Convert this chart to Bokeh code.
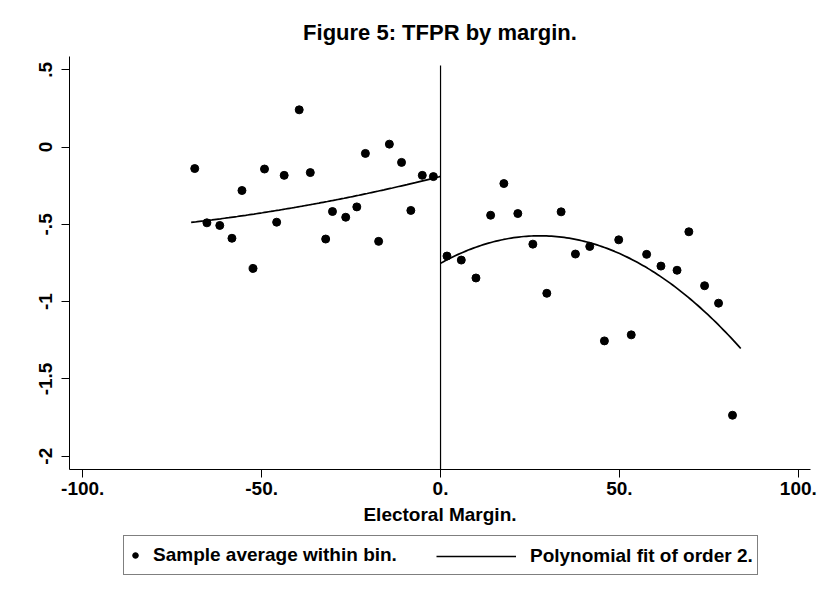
import numpy as np
from bokeh.plotting import figure
from bokeh.layouts import column
from bokeh.models import (ColumnDataSource, Range1d, FixedTicker, Legend, LegendItem)
from bokeh.embed import file_html
from bokeh.resources import INLINE

# Bin averages of TFPR, left and right of the zero electoral margin
left_margin = [-68.7, -65.3, -61.7, -58.3, -55.5, -52.4, -49.2, -45.8, -43.7, -39.5, -36.4,
               -32.1, -30.2, -26.5, -23.4, -21.0, -17.3, -14.3, -10.9, -8.3, -5.1, -2.0]
left_tfpr = [-0.139, -0.490, -0.507, -0.590, -0.281, -0.785, -0.142, -0.486, -0.183, 0.241, -0.165,
             -0.595, -0.417, -0.454, -0.387, -0.041, -0.610, 0.019, -0.099, -0.410, -0.183, -0.191]
right_margin = [1.8, 5.8, 9.9, 14.0, 17.7, 21.6, 25.8, 29.7, 33.7, 37.7, 41.7,
                45.8, 49.8, 53.3, 57.6, 61.6, 66.1, 69.4, 73.8, 77.7, 81.6]
right_tfpr = [-0.705, -0.731, -0.847, -0.441, -0.236, -0.430, -0.628, -0.946, -0.419, -0.692, -0.643,
              -1.254, -0.600, -1.215, -0.694, -0.770, -0.797, -0.548, -0.897, -1.010, -1.735]

# Second-order polynomial fits on each side: coefficients (c0, c1, c2) and fitted span
left_fit_coef = [-0.190, 0.00584, 0.0000225]
left_fit_span = [-69.7, 0.0]
right_fit_coef = [-0.752, 0.01283, -0.0002312]
right_fit_span = [0.0, 83.9]

cutoff = 0.0
cutoff_line_top = 0.528

x_ticks = [-100, -50, 0, 50, 100]
x_tick_labels = ["-100.", "-50.", "0.", "50.", "100."]
y_ticks = [0.5, 0.0, -0.5, -1.0, -1.5, -2.0]
y_tick_labels = [".5", "0", "-.5", "-1", "-1.5", "-2"]

FONT = "Liberation Sans"
STYLE = "bold"
LABEL_SIZE = "19px"
BORDERS = dict(min_border_left=69, min_border_right=12)


def poly_curve(coef, span, n=120):
    xs = np.linspace(span[0], span[1], n)
    ys = coef[0] + coef[1] * xs + coef[2] * xs ** 2
    return xs, ys


p = figure(width=822, height=532, output_backend="svg", toolbar_location=None,
           x_range=Range1d(-103.7, 103.4), y_range=Range1d(-2.086, 0.586),
           min_border_top=56, min_border_bottom=63, **BORDERS,
           background_fill_color="white", border_fill_color="white")

p.title.text = "Figure 5: TFPR by margin."
p.title.align = "center"
p.title.text_font = FONT
p.title.text_font_size = "22px"
p.title.text_font_style = STYLE
p.title.text_color = "black"
p.title.standoff = 24

p.outline_line_color = None
p.xgrid.grid_line_color = None
p.ygrid.grid_line_color = None

for ax in (p.xaxis[0], p.yaxis[0]):
    ax.axis_line_color = "black"
    ax.axis_line_width = 1
    ax.major_tick_line_color = "black"
    ax.major_tick_out = 8
    ax.major_tick_in = 0
    ax.minor_tick_line_color = None
    ax.major_label_text_font = FONT
    ax.major_label_text_font_size = LABEL_SIZE
    ax.major_label_text_font_style = STYLE
    ax.major_label_text_color = "black"
    ax.axis_label_text_font = FONT
    ax.axis_label_text_font_size = LABEL_SIZE
    ax.axis_label_text_font_style = STYLE
    ax.axis_label_text_color = "black"

p.xaxis.ticker = FixedTicker(ticks=x_ticks)
p.xaxis.major_label_overrides = dict(zip(x_ticks, x_tick_labels))
p.xaxis.axis_label = "Electoral Margin."
p.xaxis.major_label_standoff = 4
p.xaxis.axis_label_standoff = 6

p.yaxis.ticker = FixedTicker(ticks=y_ticks)
p.yaxis.major_label_overrides = dict(zip(y_ticks, y_tick_labels))
p.yaxis.major_label_orientation = "vertical"
p.yaxis.major_label_standoff = 9

# Vertical reference line at the zero margin
p.segment(x0=[cutoff], y0=[p.y_range.start], x1=[cutoff], y1=[cutoff_line_top],
          line_color="black", line_width=1.2)

pts = ColumnDataSource(dict(x=left_margin + right_margin, y=left_tfpr + right_tfpr))
p.scatter("x", "y", source=pts, size=8, marker="circle",
          fill_color="black", line_color="black")

lx, ly = poly_curve(left_fit_coef, left_fit_span)
rx, ry = poly_curve(right_fit_coef, right_fit_span)
p.line(lx, ly, line_color="black", line_width=1.7)
p.line(rx, ry, line_color="black", line_width=1.7)

# Legend strip below the chart; its key glyphs take their style from
# renderers whose only sample lies outside the strip's visible range
lg = figure(width=822, height=67, output_backend="svg", toolbar_location=None,
            x_range=Range1d(0, 1), y_range=Range1d(0, 1),
            min_border_top=0, min_border_bottom=0, **BORDERS,
            x_axis_location=None, y_axis_location=None,
            background_fill_color="white", border_fill_color="white")
lg.outline_line_color = None
lg.xgrid.grid_line_color = None
lg.ygrid.grid_line_color = None

key_pts = lg.scatter(x=[-5], y=[-5], size=8, marker="circle", fill_color="black", line_color="black")
key_fit = lg.line(x=[-5, -4], y=[-5, -5], line_color="black", line_width=1.7)

common = dict(orientation="horizontal", margin=0, spacing=0, padding=4,
              glyph_height=30, label_height=30,
              label_text_font=FONT, label_text_font_size=LABEL_SIZE,
              label_text_font_style=STYLE, label_text_color="black")
leg_a = Legend(items=[LegendItem(label="Sample average within bin.", renderers=[key_pts])],
               location=(54, 24), glyph_width=14, label_standoff=11, label_width=600,
               border_line_color="black", border_line_width=1,
               background_fill_color="white", background_fill_alpha=1.0, **common)
leg_b = Legend(items=[LegendItem(label="Polynomial fit of order 2.", renderers=[key_fit])],
               location=(367, 28), glyph_width=80, label_standoff=14,
               border_line_color=None, background_fill_alpha=0.0, **common)
lg.add_layout(leg_a)
lg.add_layout(leg_b)

page = column(p, lg, spacing=0)
open("out.html", "w").write(file_html(page, INLINE))
